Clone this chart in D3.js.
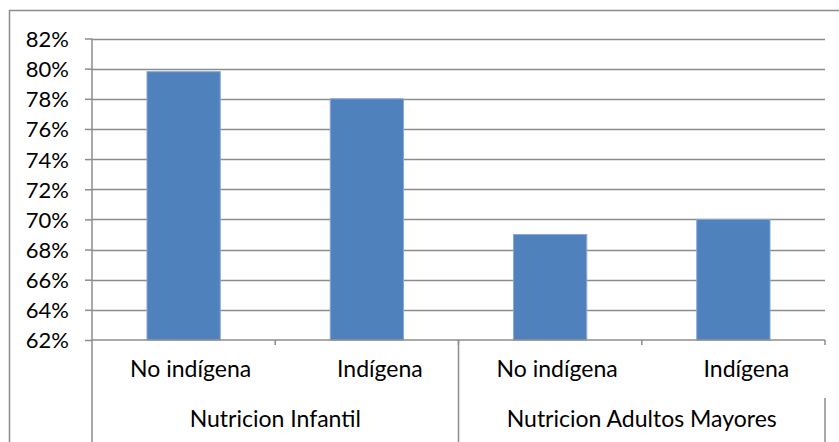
<!DOCTYPE html>
<html><head><meta charset="utf-8">
<script src="https://cdn.jsdelivr.net/npm/d3@7/dist/d3.min.js"></script>
<style>body{margin:0;background:#fff}svg{display:block}text{font-family:Lato,"Open Sans",sans-serif;fill:#000}</style>
</head><body>
<script>
const groups = ["Nutricion Infantil", "Nutricion Adultos Mayores"];
const categories = ["No indígena", "Indígena", "No indígena", "Indígena"];
const groupOf = [0, 0, 1, 1];
const values = [0.798, 0.78, 0.69, 0.70];
const yTicks = [0.62,0.64,0.66,0.68,0.70,0.72,0.74,0.76,0.78,0.80,0.82];

const W = 839, H = 442;
const svg = d3.select("body").append("svg").attr("width", W).attr("height", H);
const pLeft = 92, pRight = 825, pTop = 38.5, pBottom = 340;
const gray = "#8c8c8c";

svg.append("rect").attr("x", 9.5).attr("y", 10.5).attr("width", 900).attr("height", 600)
  .attr("fill", "none").attr("stroke", gray).attr("stroke-width", 1.5);

const y = d3.scaleLinear().domain([0.62, 0.82]).range([pBottom, pTop]);
const x = d3.scaleBand().domain(d3.range(categories.length)).range([pLeft, pRight]).paddingInner(0).paddingOuter(0);
const bw = x.bandwidth() * 0.4;

// gridlines
svg.append("g").selectAll("line").data(yTicks.slice(1)).join("line")
  .attr("x1", pLeft).attr("x2", pRight).attr("y1", d => Math.round(y(d)) + 0.5).attr("y2", d => Math.round(y(d)) + 0.5)
  .attr("stroke", gray).attr("stroke-width", 1.5);

// y axis
const yAxis = d3.axisLeft(y).tickValues(yTicks).tickFormat(d3.format(".0%")).tickSize(7).tickPadding(16);
const ga = svg.append("g").attr("transform", `translate(${pLeft},0)`).call(yAxis);
ga.select(".domain").remove();
ga.selectAll(".tick line").attr("stroke", gray).attr("stroke-width", 1.5);
ga.selectAll(".tick text").style("font-size", "22px").attr("dy", "0.36em");
svg.append("line").attr("x1", pLeft).attr("x2", pLeft).attr("y1", pTop).attr("y2", H).attr("stroke", gray).attr("stroke-width", 1.5);

// bars
svg.append("g").selectAll("rect").data(values).join("rect")
  .attr("x", (d, i) => x(i) + (x.bandwidth() - bw) / 2)
  .attr("width", bw)
  .attr("y", d => y(d))
  .attr("height", d => pBottom - y(d))
  .attr("fill", "#4F81BD").attr("stroke", "#8aa8d4").attr("stroke-width", 1);

// x axis
svg.append("line").attr("x1", pLeft).attr("x2", pRight).attr("y1", pBottom).attr("y2", pBottom).attr("stroke", gray).attr("stroke-width", 1.5);
svg.append("g").selectAll("line").data(d3.range(1, categories.length + 1)).join("line")
  .attr("x1", i => i < categories.length ? x(i) : pRight).attr("x2", i => i < categories.length ? x(i) : pRight)
  .attr("y1", pBottom).attr("y2", pBottom + 5).attr("stroke", gray).attr("stroke-width", 1.5);
const gx = x(2);
svg.append("line").attr("x1", gx).attr("x2", gx).attr("y1", pBottom).attr("y2", H).attr("stroke", gray).attr("stroke-width", 1.5);
svg.append("line").attr("x1", pRight).attr("x2", pRight).attr("y1", 398).attr("y2", H).attr("stroke", gray).attr("stroke-width", 1.5);

// category labels (original labels sit slightly right of centre)
const labelShift = i => (i % 2 === 0 ? 7 : 13);
svg.append("g").selectAll("text").data(categories).join("text")
  .attr("x", (d, i) => x(i) + x.bandwidth() / 2 + labelShift(i))
  .attr("y", 377).attr("text-anchor", "middle").style("font-size", "23px").text(d => d);

// group labels
svg.append("g").selectAll("text").data(groups).join("text")
  .attr("x", (d, g) => { const idx = d3.range(categories.length).filter(i => groupOf[i] === g); return (x(idx[0]) + x(idx[idx.length - 1]) + x.bandwidth()) / 2; })
  .attr("y", 427).attr("text-anchor", "middle").style("font-size", "23px").text(d => d);
</script>
</body></html>
